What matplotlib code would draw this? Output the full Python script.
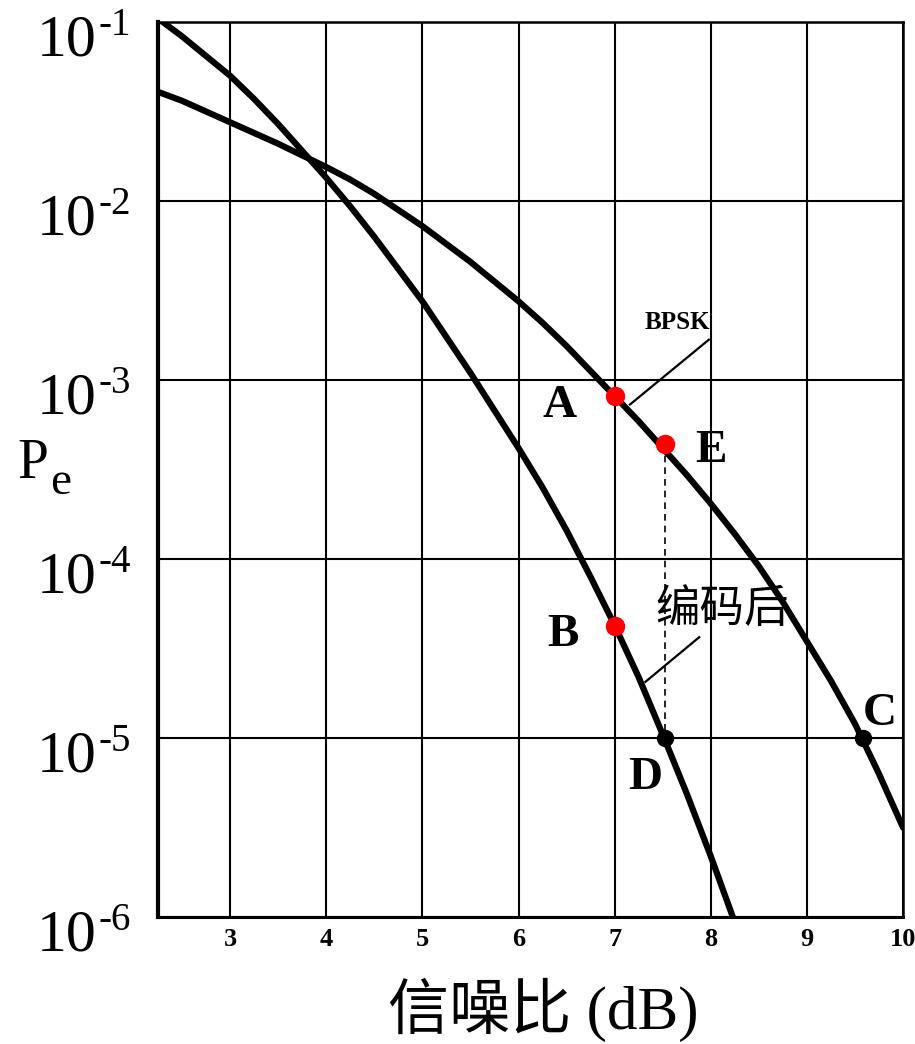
import numpy as np
import matplotlib.pyplot as plt

plt.rcParams['font.family'] = ['Liberation Serif', 'Noto Sans CJK SC']

# ---------------- data ----------------
# values are log10(Pe), read every 0.25 dB
# uncoded BPSK curve
bpsk_snr = [2.25, 2.5, 2.75, 3.0, 3.25, 3.5, 3.75, 4.0, 4.25, 4.5, 4.75, 5.0, 5.25, 5.5,
            5.75, 6.0, 6.25, 6.5, 6.75, 7.0, 7.25, 7.5, 7.75, 8.0, 8.25, 8.5, 8.75, 9.0,
            9.25, 9.5, 9.75, 10.0]
bpsk_logpe = [-1.39, -1.44, -1.50, -1.56, -1.62, -1.68, -1.745, -1.81, -1.88, -1.96, -2.05,
              -2.14, -2.24, -2.34, -2.45, -2.56, -2.68, -2.81, -2.95, -3.09, -3.23, -3.38,
              -3.53, -3.69, -3.86, -4.04, -4.24, -4.46, -4.68, -4.92, -5.20, -5.50]

# coded curve
coded_snr = [2.25, 2.5, 2.75, 3.0, 3.25, 3.5, 3.75, 4.0, 4.25, 4.5, 4.75, 5.0, 5.25, 5.5,
             5.75, 6.0, 6.25, 6.5, 6.75, 7.0, 7.25, 7.5, 7.75, 8.0, 8.25]
coded_logpe = [-0.98, -1.08, -1.19, -1.30, -1.43, -1.57, -1.72, -1.87, -2.03, -2.20, -2.38,
               -2.56, -2.76, -2.96, -3.17, -3.38, -3.60, -3.84, -4.10, -4.37, -4.66, -4.98,
               -5.31, -5.66, -6.03]

# labelled points
red_names = ['A', 'E', 'B']
red_snr = [7.0, 7.52, 7.0]
red_pe = [8.1e-4, 4.4e-4, 4.2e-5]
black_names = ['D', 'C']
black_snr = [7.52, 9.58]
black_pe = [1.0e-5, 1.0e-5]

x_ticks = [3, 4, 5, 6, 7, 8, 9, 10]
y_exps = [1, 2, 3, 4, 5, 6]

# leader lines (snr, pe)
bpsk_leader_snr = [7.16, 7.98]
bpsk_leader_pe = [7.3e-4, 1.68e-3]
coded_leader_snr = [7.32, 7.88]
coded_leader_pe = [2.06e-5, 3.66e-5]

# ---------------- figure ----------------
fig = plt.figure(figsize=(9.15, 10.44), dpi=100)
ax = fig.add_axes([0.1727, 0.1216, 0.8142, 0.8573])
ax.set_yscale('log')
ax.set_xlim(2.25, 10.0)
ax.set_ylim(1e-6, 1e-1)

ax.set_xticks(x_ticks)
ax.set_xticklabels([str(t) for t in x_ticks], fontsize=19, fontweight='bold')
ax.set_yticks([10.0 ** -e for e in y_exps])
ax.set_yticklabels([])
ax.minorticks_off()
ax.tick_params(axis='both', length=0)
ax.tick_params(axis='x', pad=8)
ax.grid(True, color='black', linewidth=1.5)

for side in ['top', 'right']:
    ax.spines[side].set_linewidth(1.8)
ax.spines['left'].set_linewidth(3.0)
ax.spines['bottom'].set_linewidth(2.2)

# y tick labels as 10 with a raised exponent
for e in y_exps:
    ax.annotate('10', xy=(0, 10.0 ** -e), xycoords=('axes fraction', 'data'),
                xytext=(-44, -24), textcoords='offset points',
                ha='right', va='baseline', fontsize=43, annotation_clip=False)
    ax.annotate('-%d' % e, xy=(0, 10.0 ** -e), xycoords=('axes fraction', 'data'),
                xytext=(-43, -9), textcoords='offset points',
                ha='left', va='baseline', fontsize=28, annotation_clip=False)

# curves
ax.plot(bpsk_snr, 10.0 ** np.array(bpsk_logpe), color='black', linewidth=4.5,
        solid_capstyle='round', solid_joinstyle='round', zorder=3)
ax.plot(coded_snr, 10.0 ** np.array(coded_logpe), color='black', linewidth=4.5,
        solid_capstyle='round', solid_joinstyle='round', zorder=3)

# dashed drop from E to D
ax.plot([red_snr[1], black_snr[0]], [red_pe[1], black_pe[0]], color='black',
        linewidth=1.2, linestyle=(0, (4, 3)), zorder=2)

# leaders
ax.plot(bpsk_leader_snr, bpsk_leader_pe, color='black', linewidth=1.6, zorder=2)
ax.plot(coded_leader_snr, coded_leader_pe, color='black', linewidth=1.6, zorder=2)
ax.text(7.65, 2.1e-3, 'BPSK', fontsize=18, fontweight='bold', ha='center', va='center')
ax.text(8.12, 5.2e-5, '编码后', fontsize=32, ha='center', va='center')

# points
ax.plot(red_snr, red_pe, 'o', color='#ff0000', markersize=13, zorder=4)
ax.plot(black_snr, black_pe, 'o', color='black', markersize=11.5, zorder=4)

offsets = {'A': (-40, -7), 'E': (33, -5), 'B': (-37, -6), 'D': (-14, -29), 'C': (12, 17)}
for name, sx, py in zip(red_names + black_names, red_snr + black_snr, red_pe + black_pe):
    ax.annotate(name, xy=(sx, py), xytext=offsets[name], textcoords='offset points',
                ha='center', va='center', fontsize=34, fontweight='bold')

# axis titles
fig.text(17 / 915, 1 - 478 / 1044, 'P', fontsize=40, ha='left', va='baseline')
fig.text(50 / 915, 1 - 494 / 1044, 'e', fontsize=34, ha='left', va='baseline')
fig.text(543 / 915, 1 - 1010 / 1044, '信噪比 (dB)', fontsize=44, ha='center', va='center')

fig.savefig('out.png', dpi=100)
